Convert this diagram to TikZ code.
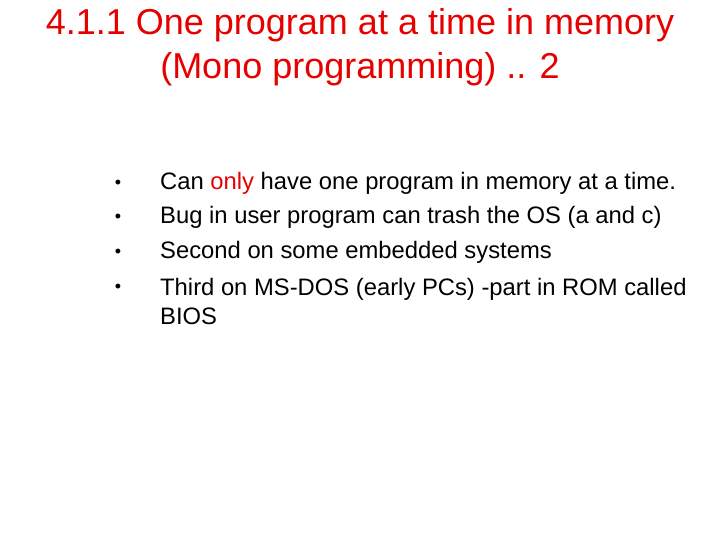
\documentclass[tikz,border=0pt]{standalone}
\usepackage{fontspec}
\setmainfont{Liberation Sans}
\definecolor{titlered}{RGB}{230,0,0}
\begin{document}
\begin{tikzpicture}[x=1pt,y=-1pt,
  titletext/.style={text=titlered,font=\fontsize{36}{42}\selectfont,anchor=center},
  bodytext/.style={font=\fontsize{23.8}{29}\selectfont,anchor=west,inner sep=0pt},
  dot/.style={font=\fontsize{18}{20}\selectfont,anchor=center,inner sep=0pt}]
  \useasboundingbox (0,0) rectangle (720,540);
  % Title
  \node[titletext] (t1) at (360,25) {4.1.1 One program at a time in memory};
  \node[titletext] (t2) at (360,69) {(Mono programming) .. 2};
  % Bullets
  \foreach \y/\n in {184/a,218/b,253/c,288/d}
    \node[dot] (b\n) at (118,\y) {•};
  \node[bodytext] (l1) at (160,183) {Can \textcolor{titlered}{only} have one program in memory at a time.};
  \node[bodytext] (l2) at (160,217) {Bug in user program can trash the OS (a and c)};
  \node[bodytext] (l3) at (160,252) {Second on some embedded systems};
  \node[bodytext,align=left] (l4) at (160,301.5) {Third on MS-DOS (early PCs) -part in ROM called\\BIOS};
\end{tikzpicture}
\end{document}
